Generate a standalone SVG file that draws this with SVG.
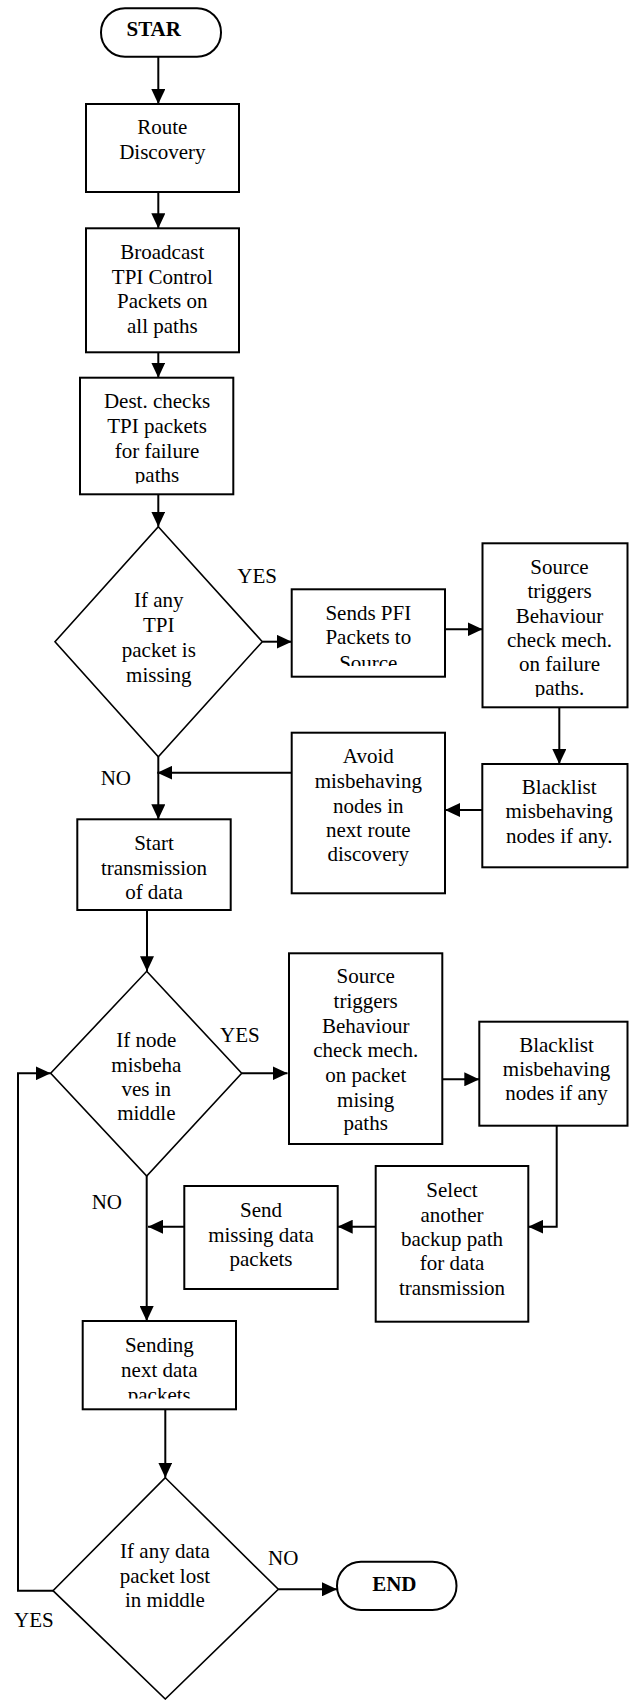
<svg xmlns="http://www.w3.org/2000/svg" width="629" height="1700" viewBox="0 0 629 1700">
<style>
.box{fill:#fff;stroke:#000;stroke-width:2}
.dia{fill:#fff;stroke:#000;stroke-width:1.6}
.t{font-family:"Liberation Serif","Times New Roman",serif;font-size:21px;fill:#000;text-anchor:middle}
.b{font-weight:bold}
.lbl{font-family:"Liberation Serif","Times New Roman",serif;font-size:21px;fill:#000}
.c{fill:none;stroke:#000;stroke-width:2}
</style>
<defs>
<marker id="ah" markerUnits="userSpaceOnUse" markerWidth="15" markerHeight="14" refX="15" refY="7" orient="auto">
<path d="M0,0 L15,7 L0,14 z" fill="#000"/>
</marker>
<clipPath id="cDest"><rect x="80" y="378" width="154" height="105.5"/></clipPath>
<clipPath id="cSends"><rect x="291" y="589" width="154" height="77"/></clipPath>
<clipPath id="cSrc1"><rect x="482" y="543" width="146" height="154"/></clipPath>
<clipPath id="cSending"><rect x="82" y="1321" width="154" height="77.5"/></clipPath>
</defs>

<g id="connectors">
<line class="c" x1="158.3" y1="56.7" x2="158.3" y2="104" marker-end="url(#ah)"/>
<line class="c" x1="158.3" y1="192" x2="158.3" y2="228.3" marker-end="url(#ah)"/>
<line class="c" x1="158.3" y1="352.3" x2="158.3" y2="377.7" marker-end="url(#ah)"/>
<line class="c" x1="158.3" y1="494.3" x2="158.3" y2="526.7" marker-end="url(#ah)"/>
<line class="c" x1="262.3" y1="641.7" x2="291.7" y2="641.7" marker-end="url(#ah)"/>
<line class="c" x1="442.7" y1="629.3" x2="482.5" y2="629.3" marker-end="url(#ah)"/>
<line class="c" x1="559.3" y1="707.3" x2="559.3" y2="764" marker-end="url(#ah)"/>
<line class="c" x1="482.3" y1="810" x2="445" y2="810" marker-end="url(#ah)"/>
<line class="c" x1="291.7" y1="772.7" x2="157.3" y2="772.7" marker-end="url(#ah)"/>
<line class="c" x1="158.3" y1="756.7" x2="158.3" y2="819.3" marker-end="url(#ah)"/>
<line class="c" x1="147" y1="910" x2="147" y2="971.3" marker-end="url(#ah)"/>
<line class="c" x1="241.7" y1="1073.3" x2="287.5" y2="1073.3" marker-end="url(#ah)"/>
<line class="c" x1="440" y1="1079.3" x2="479.3" y2="1079.3" marker-end="url(#ah)"/>
<polyline class="c" points="556.7,1125.7 556.7,1226.7 528.3,1226.7" marker-end="url(#ah)"/>
<line class="c" x1="375.7" y1="1226.7" x2="337.7" y2="1226.7" marker-end="url(#ah)"/>
<line class="c" x1="184.3" y1="1226.7" x2="148" y2="1226.7" marker-end="url(#ah)"/>
<line class="c" x1="146.7" y1="1176" x2="146.7" y2="1321" marker-end="url(#ah)"/>
<line class="c" x1="165.3" y1="1409.3" x2="165.3" y2="1477.7" marker-end="url(#ah)"/>
<line class="c" x1="278.3" y1="1589.3" x2="337" y2="1589.3" marker-end="url(#ah)"/>
<polyline class="c" points="53,1590.7 18,1590.7 18,1073.3 50.7,1073.3" marker-end="url(#ah)"/>
</g>

<g id="start">
<rect class="box" x="101" y="8.3" width="120" height="48.4" rx="24" ry="24"/>
<text class="t b" x="153.7" y="36">STAR</text>
</g>

<g id="route-discovery">
<rect class="box" x="86" y="104" width="153" height="88"/>
<text class="t" x="162.3" y="134">Route</text>
<text class="t" x="162.3" y="159">Discovery</text>
</g>

<g id="broadcast">
<rect class="box" x="86" y="228.3" width="153" height="124"/>
<text class="t" x="162.3" y="259">Broadcast</text>
<text class="t" x="162.3" y="283.5">TPI Control</text>
<text class="t" x="162.3" y="308">Packets on</text>
<text class="t" x="162.3" y="332.5">all paths</text>
</g>

<g id="dest-checks">
<rect class="box" x="80" y="377.7" width="153.3" height="116.6"/>
<text class="t" x="157" y="408.3">Dest. checks</text>
<text class="t" x="157" y="433.3">TPI packets</text>
<text class="t" x="157" y="458.3">for failure</text>
<text class="t" x="157" y="482" clip-path="url(#cDest)">paths</text>
</g>

<g id="decision-tpi">
<polygon class="dia" points="158.3,526.7 262.3,641.7 158.3,756.7 55,641.7"/>
<text class="t" x="158.8" y="606.7">If any</text>
<text class="t" x="158.8" y="632">TPI</text>
<text class="t" x="158.8" y="656.7">packet is</text>
<text class="t" x="158.8" y="681.5">missing</text>
</g>

<g id="sends-pfi">
<rect class="box" x="291.7" y="589.3" width="153.3" height="87.4"/>
<text class="t" x="368.3" y="620">Sends PFI</text>
<text class="t" x="368.3" y="644.3">Packets to</text>
<text class="t" x="368.3" y="669.5" clip-path="url(#cSends)">Source</text>
</g>

<g id="source-triggers-1">
<rect class="box" x="482.5" y="543.3" width="145" height="164"/>
<text class="t" x="559.5" y="574">Source</text>
<text class="t" x="559.5" y="598.3">triggers</text>
<text class="t" x="559.5" y="622.5">Behaviour</text>
<text class="t" x="559.5" y="646.7">check mech.</text>
<text class="t" x="559.5" y="671">on failure</text>
<text class="t" x="559.5" y="695.3" clip-path="url(#cSrc1)">paths.</text>
</g>

<g id="blacklist-1">
<rect class="box" x="482.3" y="764" width="145.2" height="103.3"/>
<text class="t" x="559.2" y="794">Blacklist</text>
<text class="t" x="559.2" y="818.3">misbehaving</text>
<text class="t" x="559.2" y="842.7">nodes if any.</text>
</g>

<g id="avoid">
<rect class="box" x="291.7" y="732.7" width="153.3" height="160.6"/>
<text class="t" x="368.3" y="762.7">Avoid</text>
<text class="t" x="368.3" y="788">misbehaving</text>
<text class="t" x="368.3" y="812.5">nodes in</text>
<text class="t" x="368.3" y="836.7">next route</text>
<text class="t" x="368.3" y="860.7">discovery</text>
</g>

<g id="start-transmission">
<rect class="box" x="77.3" y="819.3" width="153.4" height="90.7"/>
<text class="t" x="154" y="850">Start</text>
<text class="t" x="154" y="875">transmission</text>
<text class="t" x="154" y="899.3">of data</text>
</g>

<g id="decision-misbehave">
<polygon class="dia" points="146.7,971.3 241.7,1073.3 146.7,1176 50.7,1073.3"/>
<text class="t" x="146.3" y="1046.7">If node</text>
<text class="t" x="146.3" y="1071.7">misbeha</text>
<text class="t" x="146.3" y="1096">ves in</text>
<text class="t" x="146.3" y="1120">middle</text>
</g>

<g id="source-triggers-2">
<rect class="box" x="289" y="953.3" width="153.3" height="190.7"/>
<text class="t" x="365.7" y="983.3">Source</text>
<text class="t" x="365.7" y="1008.3">triggers</text>
<text class="t" x="365.7" y="1032.7">Behaviour</text>
<text class="t" x="365.7" y="1056.7">check mech.</text>
<text class="t" x="365.7" y="1081.7">on packet</text>
<text class="t" x="365.7" y="1106.7">mising</text>
<text class="t" x="365.7" y="1130">paths</text>
</g>

<g id="blacklist-2">
<rect class="box" x="479.3" y="1021.7" width="148.2" height="104"/>
<text class="t" x="556.5" y="1051.7">Blacklist</text>
<text class="t" x="556.5" y="1076">misbehaving</text>
<text class="t" x="556.5" y="1100">nodes if any</text>
</g>

<g id="select-backup">
<rect class="box" x="375.7" y="1166" width="152.6" height="155.7"/>
<text class="t" x="452" y="1197.3">Select</text>
<text class="t" x="452" y="1221.7">another</text>
<text class="t" x="452" y="1246">backup path</text>
<text class="t" x="452" y="1270">for data</text>
<text class="t" x="452" y="1295">transmission</text>
</g>

<g id="send-missing">
<rect class="box" x="184.3" y="1186" width="153.4" height="103"/>
<text class="t" x="261" y="1216.7">Send</text>
<text class="t" x="261" y="1241.7">missing data</text>
<text class="t" x="261" y="1266">packets</text>
</g>

<g id="sending-next">
<rect class="box" x="82.7" y="1321" width="153.3" height="88.3"/>
<text class="t" x="159.3" y="1351.7">Sending</text>
<text class="t" x="159.3" y="1376.7">next data</text>
<text class="t" x="159.3" y="1401.5" clip-path="url(#cSending)">packets</text>
</g>

<g id="decision-lost">
<polygon class="dia" points="165.3,1477.7 278.3,1589.3 165.3,1699 53,1590.7"/>
<text class="t" x="165" y="1558.3">If any data</text>
<text class="t" x="165" y="1582.7">packet lost</text>
<text class="t" x="165" y="1606.7">in middle</text>
</g>

<g id="end">
<rect class="box" x="337" y="1561.7" width="119.5" height="48.3" rx="24" ry="24"/>
<text class="t b" x="394.3" y="1590.7">END</text>
</g>

<g id="labels">
<text class="lbl" x="237.3" y="582.7">YES</text>
<text class="lbl" x="100.7" y="785">NO</text>
<text class="lbl" x="220" y="1041.7">YES</text>
<text class="lbl" x="91.7" y="1209.3">NO</text>
<text class="lbl" x="268" y="1565">NO</text>
<text class="lbl" x="14" y="1626.7">YES</text>
</g>
</svg>
